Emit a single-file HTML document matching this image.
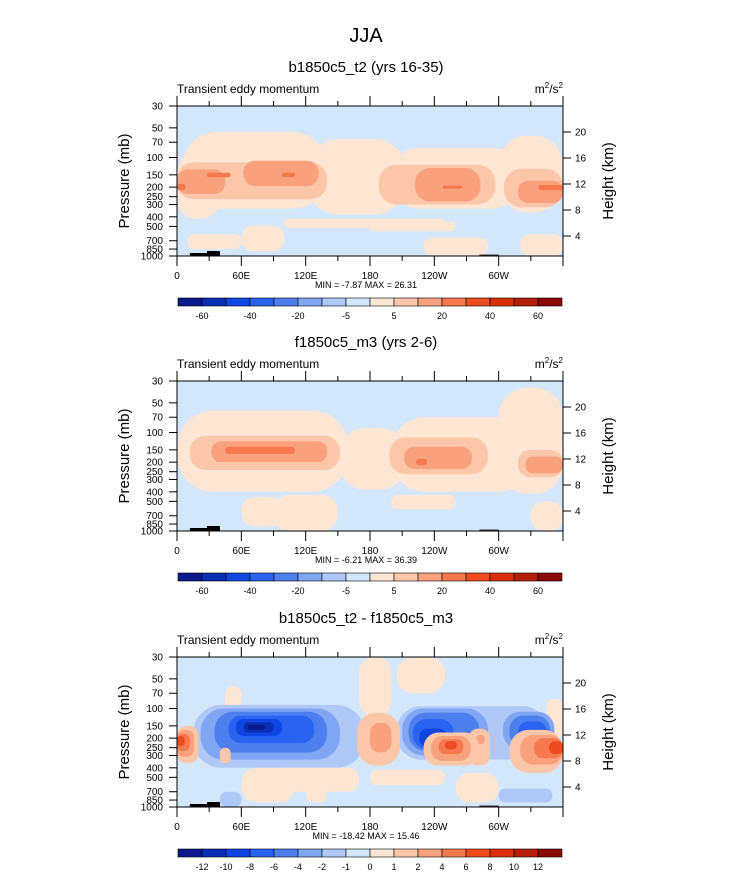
<!DOCTYPE html>
<html><head><meta charset="utf-8"><style>
body{margin:0;background:#fff;}
svg{display:block;font-family:"Liberation Sans",Arial,sans-serif;}
</style></head><body>
<svg id="fig" width="733" height="888" viewBox="0 0 733 888" xmlns="http://www.w3.org/2000/svg">
<text x="366" y="42" font-size="20" text-anchor="middle">JJA</text>
</svg>
<script>
const palette=['#0a1a8c','#0a2fb4','#0f45e0','#2a63f0','#4d80ee','#7fa5f3','#afc8f7','#d4e6fa','#fde6d4','#fcc6a9','#f9a07c','#f6784e','#f04a1f','#db3007','#b21e05','#8a0a05'];
const pressureTicks=[30,50,70,100,150,200,250,300,400,500,700,850,1000];
const heightTicks=[4,8,12,16,20];
const lonTicks=[0,60,120,180,240,300];
const lonLabels=['0','60E','120E','180','120W','60W'];
const cbLabelsAbs=['','-60','','-40','','-20','','-5','','5','','20','','40','','60',''];
const cbLabelsDiff=['','-12','-10','-8','-6','-4','-2','-1','0','1','2','4','6','8','10','12',''];
const panelTitles=['b1850c5_t2 (yrs 16-35)','f1850c5_m3 (yrs 2-6)','b1850c5_t2 - f1850c5_m3'];
const minMax=['MIN =  -7.87  MAX =  26.31','MIN =  -6.21  MAX =  36.39','MIN = -18.42  MAX =  15.46'];
const bgLevel=[7,7,7];
// features: [lon0, lon1, pTop, pBottom, level index]
const feat1=[
[5,140,55,330,8],[0,40,90,420,8],[120,215,65,380,8],[200,320,80,330,8],[300,360,60,360,8],
[100,250,420,520,8],[180,260,450,560,8],[60,100,490,900,8],[230,290,650,1000,8],[320,360,600,1000,8],[10,60,600,850,8],
[0,140,112,265,9],[188,297,118,300,9],[305,360,130,320,9],
[0,45,132,235,10],[62,132,108,195,10],[222,283,128,280,10],[318,360,172,290,10],
[28,50,143,158,11],[98,110,143,158,11],[248,266,193,207,11],[337,360,190,215,11],[0,8,185,215,11]
];
const feat2=[
[0,160,60,400,8],[150,215,90,380,8],[200,330,70,400,8],[300,360,35,420,8],
[60,100,450,900,8],[200,260,430,600,8],[330,360,500,1000,8],[90,150,430,1000,8],
[12,152,108,240,9],[198,290,112,265,9],[318,360,150,285,9],
[32,140,123,200,10],[212,275,140,235,10],[325,360,175,260,10],
[45,110,140,165,11],[223,233,185,215,11]
];
const feat3=[
[45,60,60,110,8],[170,200,30,120,8],[205,250,30,70,8],[345,360,80,200,8],
[60,110,400,900,8],[180,250,420,600,8],[260,300,450,900,8],[120,140,600,900,8],
[15,175,92,400,6],[205,345,95,330,6],[300,350,650,900,6],[40,60,700,1000,6],
[22,152,100,330,5],[210,290,100,300,5],[304,352,108,260,5],
[35,140,108,280,4],[216,282,110,270,4],[310,348,118,245,4],
[48,128,118,225,3],[220,258,128,255,3],[318,345,135,230,3],
[55,98,128,190,2],[226,252,160,245,2],[324,342,170,218,2],
[62,90,138,175,1],[234,246,185,220,1],[328,338,190,210,1],
[66,82,146,165,0],
[168,208,110,380,9],[180,200,140,280,10],[272,292,160,380,9],[279,287,185,230,10],
[0,20,150,360,9],[0,16,165,310,10],[0,12,180,270,11],[0,7,190,240,12],
[230,282,175,380,9],[237,274,190,340,10],[244,267,205,290,11],[250,261,215,260,12],
[310,360,165,450,9],[320,360,185,370,10],[333,360,200,320,11],[347,360,215,290,12],
[40,50,250,360,9],[90,170,400,700,8]
];
const features=[feat1,feat2,feat3];
const panelTops=[106,381,657];
const X0=177,X1=563,H=150;
const svg=document.getElementById('fig');
const NS='http://www.w3.org/2000/svg';
function mk(tag,attrs,parent){const e=document.createElementNS(NS,tag);for(const k in attrs)e.setAttribute(k,attrs[k]);(parent||svg).appendChild(e);return e;}
function xScale(lon){return X0+(lon/360)*(X1-X0);}
function yScale(p,top){return top+(Math.log(p)-Math.log(30))/(Math.log(1000)-Math.log(30))*H;}
function hScale(h,top){return top+130-(h-4)*6.5;}

panelTops.forEach((top,pi)=>{
  const bot=top+H;
  const g=mk('g',{});
  
  
  let t=mk('text',{x:366,y:top-34,'font-size':15,'text-anchor':'middle'},g);t.textContent=panelTitles[pi];
  
  t=mk('text',{x:X0,y:top-13,'font-size':12},g);t.textContent='Transient eddy momentum';
  
  t=mk('text',{x:X1,y:top-13,'font-size':12,'text-anchor':'end'},g);
  t.innerHTML='m<tspan dy="-5" font-size="8">2</tspan><tspan dy="5">/s</tspan><tspan dy="-5" font-size="8">2</tspan>';
  
  const cid='clip'+pi;
  const cp=mk('clipPath',{id:cid},g);mk('rect',{x:X0,y:top,width:X1-X0,height:H},cp);
  const plot=mk('g',{'clip-path':'url(#'+cid+')'},g);
  
  const bg=mk('rect',{x:X0,y:top,width:X1-X0,height:H,fill:palette[bgLevel[pi]]},plot);
  
  features[pi].forEach(f=>{
    const x0=xScale(f[0]),x1=xScale(f[1]),y0=yScale(f[2],top),y1=yScale(f[3],top);
    const w=x1-x0,h=y1-y0,r=Math.min(w,h)*0.45;
    const e=mk('rect',{x:x0,y:y0,width:w,height:h,rx:r,ry:r,fill:palette[f[4]]},plot);
    
    
  });
  mk('rect',{x:xScale(12),y:bot-3,width:xScale(40)-xScale(12),height:3,fill:'#000'},plot);
  mk('rect',{x:xScale(28),y:bot-5,width:xScale(40)-xScale(28),height:5,fill:'#000'},plot);
  mk('rect',{x:xScale(282),y:bot-1.5,width:xScale(300)-xScale(282),height:1.5,fill:'#333'},plot);
  const fr=mk('rect',{x:X0,y:top,width:X1-X0,height:H,fill:'none',stroke:'#000','stroke-width':1},g);
  
  for(let lon=0;lon<=360;lon+=30){
    const x=xScale(lon),len=lon%60===0?10:5;
    mk('line',{x1:x,x2:x,y1:top,y2:top-len,stroke:'#000'},g);
    mk('line',{x1:x,x2:x,y1:bot,y2:bot+len,stroke:'#000'},g);
  }
  lonTicks.forEach((lon,i)=>{
    const tt=mk('text',{x:xScale(lon),y:bot+23,'font-size':10,'text-anchor':'middle'},g);tt.textContent=lonLabels[i];
    
  });
  pressureTicks.forEach(p=>{
    const y=yScale(p,top);
    mk('line',{x1:X0,x2:X0-8,y1:y,y2:y,stroke:'#000'},g);
    const tt=mk('text',{x:X0-14,y:y+3.5,'font-size':10,'text-anchor':'end'},g);tt.textContent=p;
    
  });
  heightTicks.forEach(h=>{
    const y=hScale(h,top);
    mk('line',{x1:X1,x2:X1+8,y1:y,y2:y,stroke:'#000'},g);
    const tt=mk('text',{x:X1+12,y:y+3.5,'font-size':10},g);tt.textContent=h;
    
  });
  t=mk('text',{x:0,y:0,'font-size':15,'text-anchor':'middle',transform:'translate(129,'+(top+75)+') rotate(-90)'},g);t.textContent='Pressure (mb)';
  
  t=mk('text',{x:0,y:0,'font-size':15,'text-anchor':'middle',transform:'translate(613,'+(top+75)+') rotate(-90)'},g);t.textContent='Height (km)';
  
  t=mk('text',{x:366,y:bot+32,'font-size':9,'text-anchor':'middle'},g);t.textContent=minMax[pi];
  
  const cb=mk('g',{},g);
  
  const cbY=bot+42,bw=(562-178)/16;
  palette.forEach((c,i)=>{
    const r=mk('rect',{x:178+i*bw,y:cbY,width:bw,height:8,fill:c,stroke:'#000','stroke-width':0.6},cb);
    
  });
  const labs=pi<2?cbLabelsAbs:cbLabelsDiff;
  labs.forEach((l,i)=>{
    if(!l)return;
    const tt=mk('text',{x:178+i*bw,y:cbY+21,'font-size':9,'text-anchor':'middle'},cb);tt.textContent=l;
    
  });
});
</script>
</body></html>
